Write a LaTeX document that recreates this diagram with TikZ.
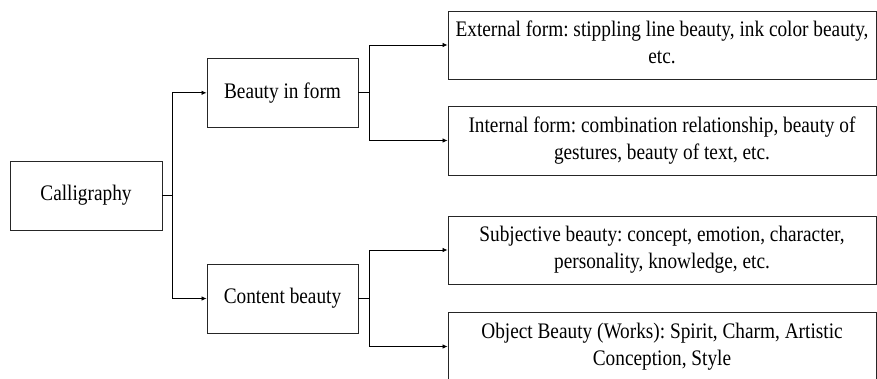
\documentclass[tikz,border=0pt]{standalone}
\usepackage{fontspec}
\usepackage{graphicx}
\setmainfont{Liberation Serif}
\usetikzlibrary{arrows.meta}
\frenchspacing
\newcommand{\stxt}[1]{\scalebox{1}[1.15]{\begin{tabular}{@{}c@{}}#1\end{tabular}}}
\begin{document}
\begin{tikzpicture}[x=1pt,y=-1pt,
  box/.style={draw=black!85, line width=0.9pt, minimum width=#1, inner sep=0pt, align=center,
    font=\fontsize{19.3}{23.5}\selectfont},
  arr/.style={draw=black, line width=0.8pt, -{Latex[length=5pt,width=4.5pt]}},
  ln/.style={draw=black, line width=0.8pt}]
\useasboundingbox (0,0) rectangle (877,378);
\clip (0,0) rectangle (877,378);
\fill[white] (0,0) rectangle (877,378);
\node[box=152pt, minimum height=69pt] (cal) at (86,195.5) {\stxt{Calligraphy}};
\node[box=151pt, minimum height=69pt] (bif) at (282.5,92.8) {\stxt{Beauty in form}};
\node[box=151pt, minimum height=69pt] (cb) at (282.5,298.5) {\stxt{Content beauty}};
\node[box=428pt, minimum height=68pt] (ext) at (662,45) {\stxt{External form: stippling line beauty, ink color beauty,\\etc.}};
\node[box=428pt, minimum height=69pt] (int) at (662,140.5) {\stxt{Internal form: combination relationship, beauty of\\gestures, beauty of text, etc.}};
\node[box=428pt, minimum height=68pt] (sub) at (662,250) {\stxt{Subjective beauty: concept, emotion, character,\\personality, knowledge, etc.}};
\node[box=428pt, minimum height=69pt] (obj) at (662,346.5) {\stxt{Object Beauty (Works): Spirit, Charm, Artistic\\Conception, Style}};
\coordinate (j0) at (172,195.5);
\coordinate (j1) at (369,92.8);
\coordinate (j2) at (369,298.5);
\draw[ln] (cal.east) -- (j0);
\draw[arr] (j0) |- (bif.west);
\draw[arr] (j0) |- (cb.west);
\draw[ln] (bif.east) -- (j1);
\draw[arr] (j1) |- (ext.west);
\draw[arr] (j1) |- (int.west);
\draw[ln] (cb.east) -- (j2);
\draw[arr] (j2) |- (sub.west);
\draw[arr] (j2) |- (obj.west);
\end{tikzpicture}
\end{document}
